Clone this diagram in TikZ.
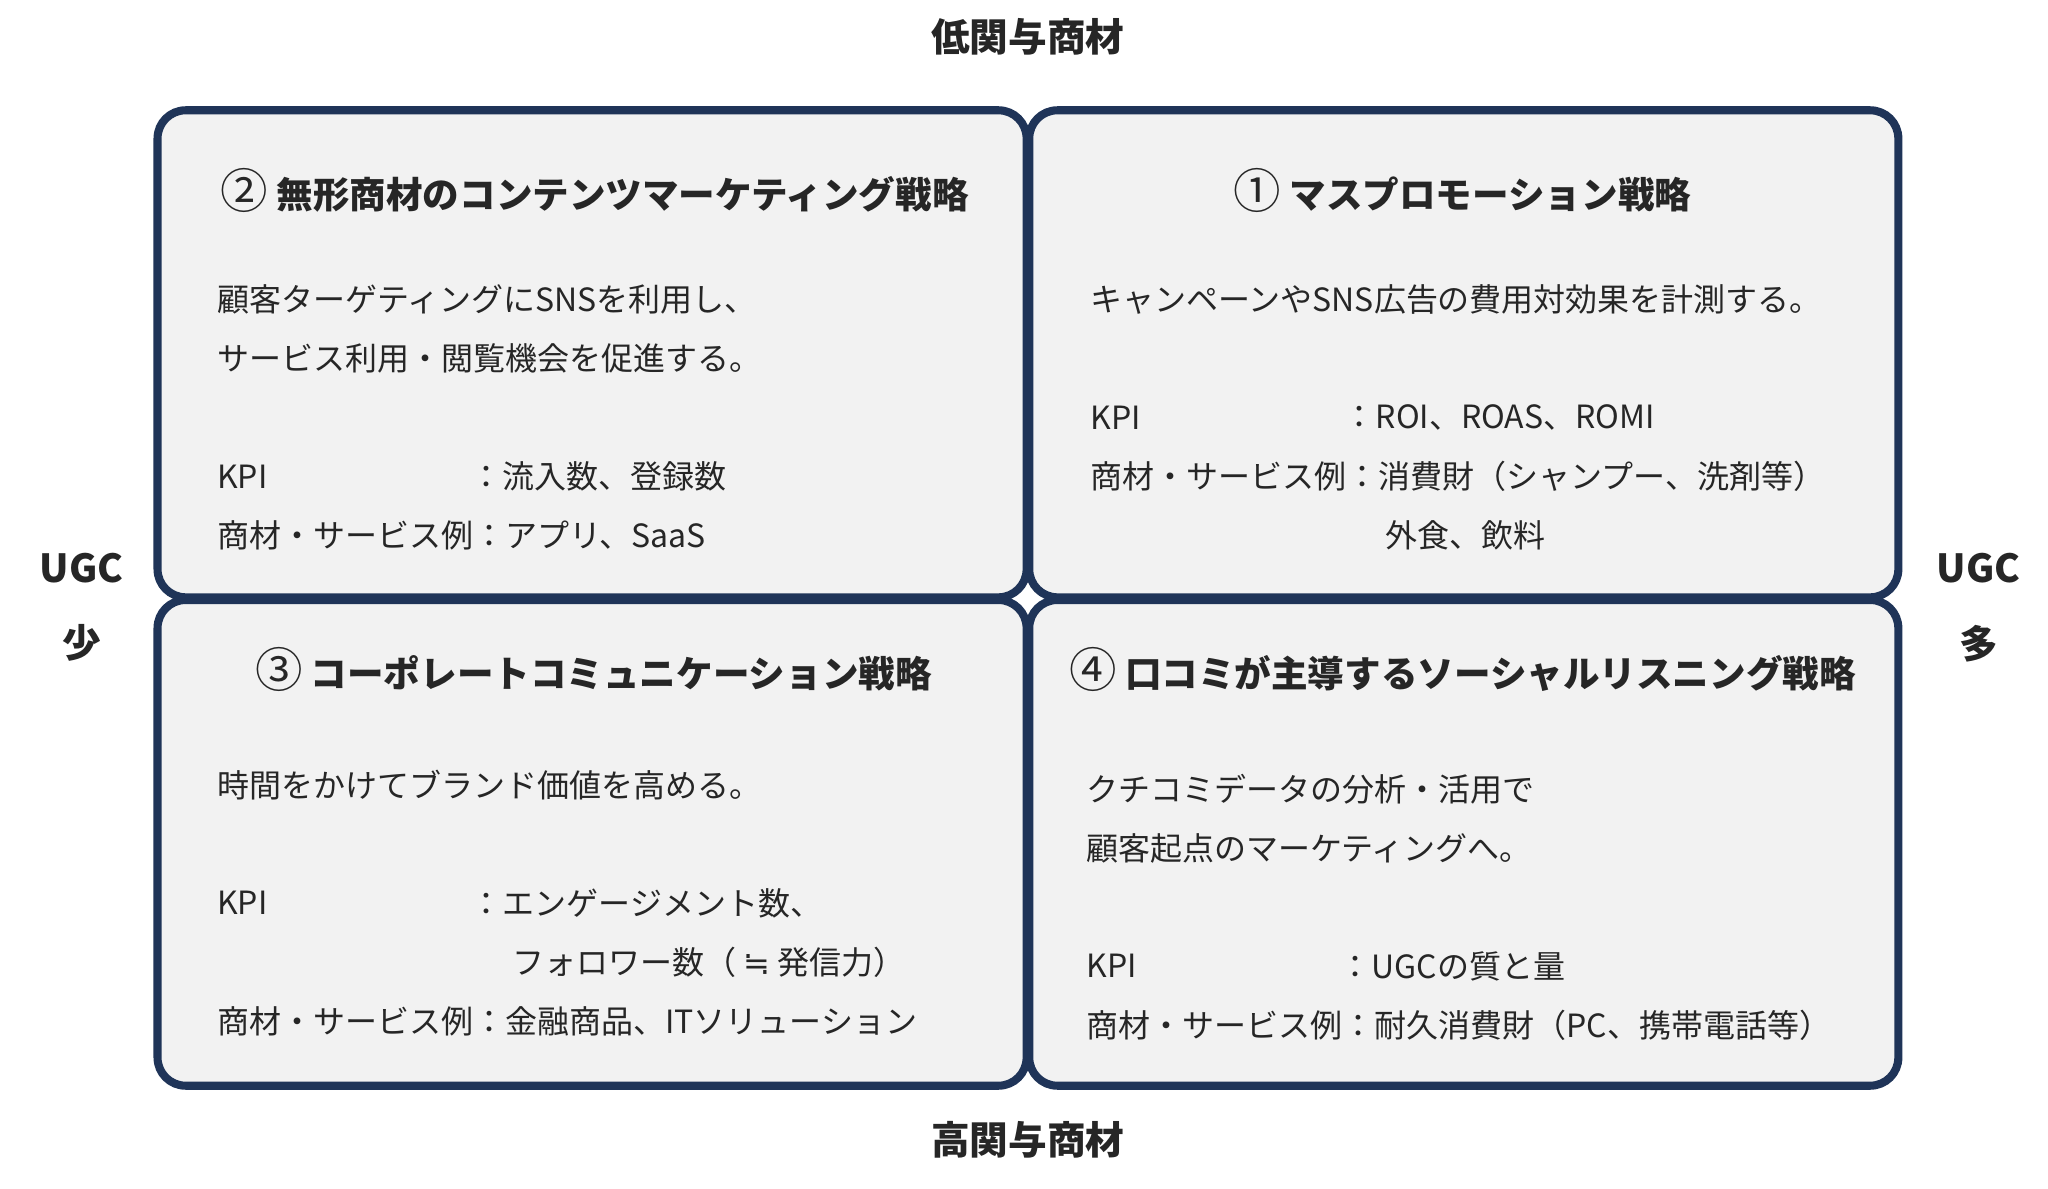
\documentclass[tikz,border=0pt]{standalone}
\usepackage{fontspec}
\setmainfont{Noto Sans CJK JP}
\newfontfamily\dejavufam{DejaVu Sans}
\newcommand{\cnum}[1]{{\fontsize{13.5pt}{14pt}\selectfont\mdseries #1}}
\begin{document}
\begin{tikzpicture}[x=0.01313cm,y=-0.01313cm,
  quad/.style={draw=navy,line width=2.3pt,fill=boxgray,rounded corners=8pt},
  ttl/.style={font=\fontsize{10.4pt}{12pt}\selectfont\bfseries,text=txtc,inner sep=0pt},
  body/.style={font=\fontsize{9.1pt}{11pt}\selectfont,text=txtc,anchor=west,inner sep=0pt},
  axis/.style={font=\fontsize{11pt}{13pt}\selectfont\bfseries,text=txtc,inner sep=0pt}]
\definecolor{navy}{HTML}{1F3458}
\definecolor{boxgray}{HTML}{F2F2F2}
\definecolor{txtc}{HTML}{262626}
\useasboundingbox (0,0) rectangle (1560,905.6);
\fill[white] (0,0) rectangle (1560,905.6);
\draw[quad] (120,84) rectangle (782,455);
\draw[quad] (784,84) rectangle (1446,455);
\draw[quad] (120,457) rectangle (782,827);
\draw[quad] (784,457) rectangle (1446,827);
% axis labels
\node[axis] (top) at (783,28) {低関与商材};
\node[axis] (bot) at (783,868) {高関与商材};
\node[axis] (lu) at (62,433) {UGC};
\node[axis] (ls) at (62,490) {少};
\node[axis] (ru) at (1507,433) {UGC};
\node[axis] (rs) at (1507,490) {多};
% box 2
\node[ttl] (t2) at (453,145) {\cnum{②} 無形商材のコンテンツマーケティング戦略};
\node[body] (b2a) at (165,228) {顧客ターゲティングにSNSを利用し、};
\node[body] (b2b) at (165,273) {サービス利用・閲覧機会を促進する。};
\node[body] (b2c) at (165,363) {KPI};
\node[body] (b2d) at (358,363) {：流入数、登録数};
\node[body] (b2e) at (165,408) {商材・サービス例：アプリ、SaaS};
% box 1
\node[ttl] (t1) at (1114,145) {\cnum{①} マスプロモーション戦略};
\node[body] (b1a) at (830,228) {キャンペーンやSNS広告の費用対効果を計測する。};
\node[body] (b1c) at (830,318) {KPI};
\node[body] (b1d) at (1023,318) {：ROI、ROAS、ROMI};
\node[body] (b1e) at (830,363) {商材・サービス例：消費財（シャンプー、洗剤等）};
\node[body] (b1f) at (1055,408) {外食、飲料};
% box 3
\node[ttl] (t3) at (452,510) {\cnum{③} コーポレートコミュニケーション戦略};
\node[body] (b3a) at (165,598) {時間をかけてブランド価値を高める。};
\node[body] (b3c) at (165,688) {KPI};
\node[body] (b3d) at (358,688) {：エンゲージメント数、};
\node[body] (b3e) at (390,733) {フォロワー数（ {\dejavufam ≒} 発信力）};
\node[body] (b3f) at (165,778) {商材・サービス例：金融商品、ITソリューション};
% box 4
\node[ttl] (t4) at (1114,510) {\cnum{④} 口コミが主導するソーシャルリスニング戦略};
\node[body] (b4a) at (827,601) {クチコミデータの分析・活用で};
\node[body] (b4b) at (827,646) {顧客起点のマーケティングへ。};
\node[body] (b4c) at (827,736) {KPI};
\node[body] (b4d) at (1020,736) {：UGCの質と量};
\node[body] (b4e) at (827,781) {商材・サービス例：耐久消費財（PC、携帯電話等）};
\end{tikzpicture}
\end{document}
